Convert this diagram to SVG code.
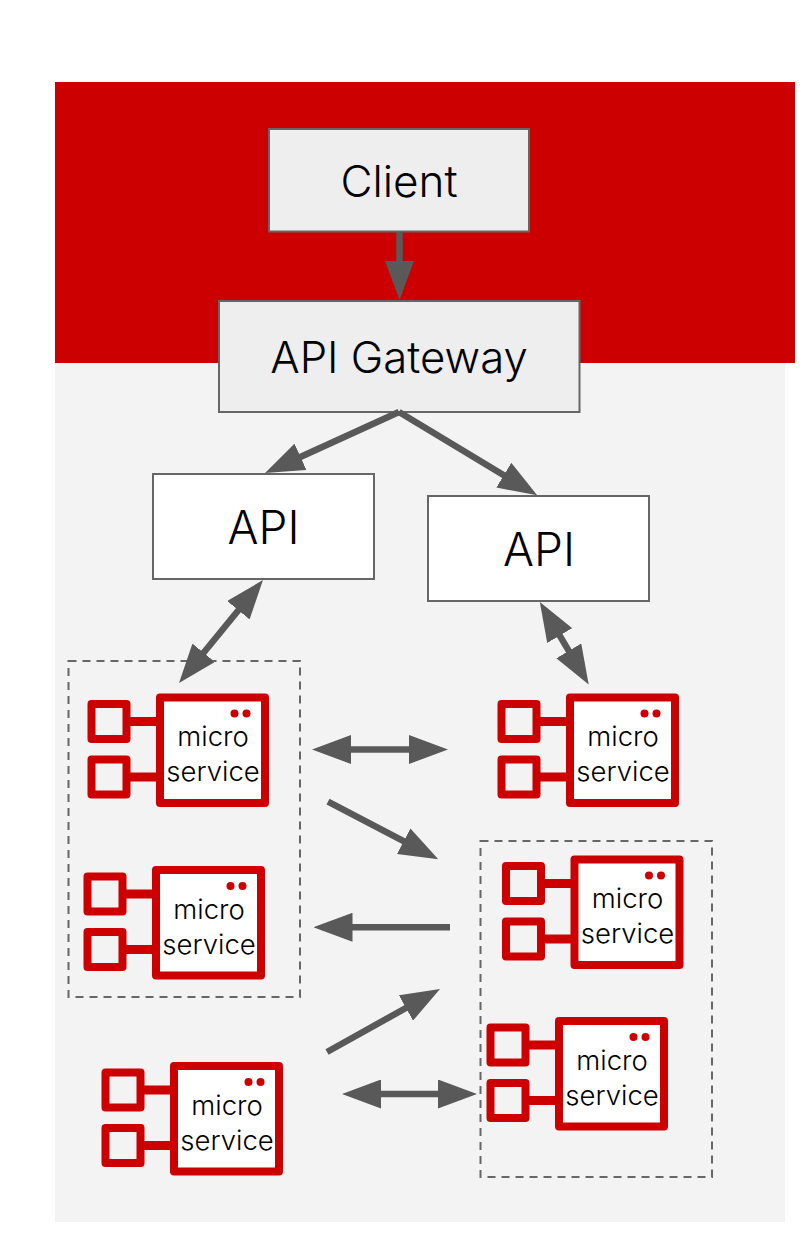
<svg xmlns="http://www.w3.org/2000/svg" width="804" height="1234" viewBox="0 0 804 1234">
<style>
text{font-family:"Inter","Liberation Sans",sans-serif;fill:#000;text-anchor:middle}
.box{stroke:#666;stroke-width:2}
.big{font-size:46px;font-weight:300}
.gw{font-size:43.700px;font-weight:300}
.client{font-size:44px;font-weight:300}
.ms{font-size:27.500px;font-weight:300}
.red{fill:#c00}
.m{fill:#fff;stroke:#c00;stroke-width:8;stroke-linejoin:round}
.s{fill:#f3f3f3;stroke:#c00;stroke-width:8;stroke-linejoin:round}
.dash{fill:none;stroke:#666;stroke-width:2;stroke-dasharray:8 6}
.c line{stroke:#595959;stroke-width:6.500;fill:none}
</style>
<defs>
<marker id="h" markerUnits="userSpaceOnUse" markerWidth="39" markerHeight="29" viewBox="0 0 39 29" refX="2" refY="14.500" orient="auto-start-reverse"><path d="M0 0L39 14.500L0 29Z" fill="#595959"/></marker>
<g id="ms">
<rect class="red" x="130" y="717" width="28" height="9"/>
<rect class="red" x="130" y="772.500" width="28" height="9"/>
<rect class="s" x="91.500" y="704" width="35" height="35"/>
<rect class="s" x="91.500" y="759.500" width="35" height="35"/>
<rect class="m" x="160" y="697.500" width="105" height="105.500"/>
<circle class="red" cx="234.500" cy="713.500" r="4"/>
<circle class="red" cx="246.500" cy="713.500" r="4"/>
<text class="ms" x="213" y="746">micro</text>
<text class="ms" x="213" y="781">service</text>
</g>
</defs>
<rect x="55" y="363" width="730" height="859" fill="#f3f3f3"/>
<rect class="red" x="55" y="82" width="740" height="281"/>
<g id="group-left"><rect class="dash" x="68.500" y="661" width="231.500" height="336"/></g>
<g id="group-right"><rect class="dash" x="480.500" y="841" width="231.500" height="336"/></g>
<g id="client"><rect class="box" x="269" y="129" width="260" height="102.500" fill="#eee"/><text class="client" x="399" y="197">Client</text></g>
<g id="gateway"><rect class="box" x="219" y="301" width="360.500" height="111" fill="#eee"/><text class="gw" x="399" y="373">API Gateway</text></g>
<g id="api-left"><rect class="box" x="153" y="474" width="221" height="105" fill="#fff"/><text class="big" x="263.500" y="544">API</text></g>
<g id="api-right"><rect class="box" x="428" y="496" width="221" height="105" fill="#fff"/><text class="big" x="539" y="566">API</text></g>
<g id="ms-1"><use href="#ms"/></g>
<g id="ms-2"><use href="#ms" x="410"/></g>
<g id="ms-3"><use href="#ms" x="-4" y="172.500"/></g>
<g id="ms-4"><use href="#ms" x="14" y="368.500"/></g>
<g id="ms-5"><use href="#ms" x="414.500" y="162"/></g>
<g id="ms-6"><use href="#ms" x="399" y="323.500"/></g>
<g id="connectors" class="c">
<line x1="399.500" y1="232" x2="399.500" y2="263" marker-end="url(#h)"/>
<line x1="399" y1="412" x2="298.700" y2="457.700" marker-end="url(#h)"/>
<line x1="399" y1="412" x2="505.500" y2="476.200" marker-end="url(#h)"/>
<line x1="239.600" y1="608.700" x2="202.400" y2="654.300" marker-start="url(#h)" marker-end="url(#h)"/>
<line x1="558.700" y1="633.900" x2="569.800" y2="652.600" marker-start="url(#h)" marker-end="url(#h)"/>
<line x1="349" y1="749.500" x2="411" y2="749.500" marker-start="url(#h)" marker-end="url(#h)"/>
<line x1="328" y1="801.700" x2="405.500" y2="842.200" marker-end="url(#h)"/>
<line x1="450" y1="927.300" x2="350.500" y2="927.300" marker-end="url(#h)"/>
<line x1="327" y1="1052" x2="407.700" y2="1007" marker-end="url(#h)"/>
<line x1="379" y1="1094" x2="440" y2="1094" marker-start="url(#h)" marker-end="url(#h)"/>
</g>
</svg>
